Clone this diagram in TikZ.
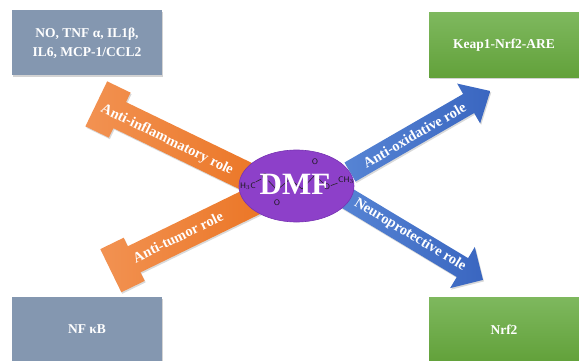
\documentclass[tikz,border=0pt]{standalone}
\usepackage{fontspec}
\setmainfont{Liberation Serif}
\usetikzlibrary{shadows,shapes.geometric}
\definecolor{boxgray}{RGB}{132,151,176}
\definecolor{greenT}{RGB}{126,184,94}
\definecolor{greenB}{RGB}{98,161,58}
\definecolor{orangeL}{RGB}{242,146,82}
\definecolor{orangeD}{RGB}{235,118,38}
\definecolor{blueL}{RGB}{86,132,212}
\definecolor{blueD}{RGB}{58,102,192}
\definecolor{dmfpurple}{RGB}{141,64,201}
\definecolor{dmfedge}{RGB}{118,50,178}
\begin{document}
\begin{tikzpicture}[x=1pt,y=-1pt,
  box/.style={minimum width=150pt, minimum height=65pt, inner sep=0pt,
    text=white, font=\fontsize{13.5}{19}\selectfont\bfseries, align=center,
    drop shadow={shadow xshift=1pt,shadow yshift=-1.5pt,opacity=0.35}},
  graybox/.style={box, fill=boxgray},
  greenbox/.style={box, top color=greenT, bottom color=greenB},
  lbl/.style={text=white, font=\fontsize{14.5}{16}\selectfont\bfseries, inner sep=0pt},
  tbar/.style={left color=orangeL, right color=orangeD,
    drop shadow={shadow xshift=1pt,shadow yshift=-1.5pt,opacity=0.3}},
  barrow/.style={left color=blueL, right color=blueD,
    drop shadow={shadow xshift=1pt,shadow yshift=-1.5pt,opacity=0.3}},
  bond/.style={draw=black!85, line width=0.6pt},
  atom/.style={font=\fontsize{8}{8}\selectfont\sffamily, text=black!90, inner sep=0.5pt}
]
\useasboundingbox (0,0) rectangle (579,361);

% boxes
\node[graybox] (inflam) at (87,43) {NO, TNF α, IL1β,\\IL6, MCP-1/CCL2};
\node[greenbox] (keap) at (504,45.5) {Keap1-Nrf2-ARE};
\node[graybox] (nfkb) at (87,329.5) {NF κB};
\node[greenbox] (nrf2) at (504,329.5) {Nrf2};

% orange T-bars (inhibition)
\coordinate (t1) at (108,109.5);
\begin{scope}[shift={(t1)}, rotate=-25.8]
  \path[tbar] (-13,-25) -- (13,-25) -- (13,-14.5) -- (165,-14.5) -- (165,14.5)
    -- (13,14.5) -- (13,25) -- (-13,25) -- cycle;
\end{scope}
\coordinate (t2) at (122.5,265);
\begin{scope}[shift={(t2)}, rotate=26]
  \path[tbar] (-13,-24) -- (13,-24) -- (13,-14.5) -- (150,-14.5) -- (150,14.5)
    -- (13,14.5) -- (13,24) -- (-13,24) -- cycle;
\end{scope}

% blue block arrows
\coordinate (s3) at (350,172);
\begin{scope}[shift={(s3)}, rotate=30]
  \path[barrow] (0,-11) -- (137,-11) -- (137,-23) -- (162,0) -- (137,23)
    -- (137,11) -- (0,11) -- cycle;
\end{scope}
\coordinate (s4) at (345,197);
\begin{scope}[shift={(s4)}, rotate=-31]
  \path[barrow] (0,-11) -- (137,-11) -- (137,-24) -- (161,0) -- (137,24)
    -- (137,11) -- (0,11) -- cycle;
\end{scope}

% arrow labels
\node[lbl, rotate=-25.8] (lantiinf) at (167,140) {Anti-inflammatory role};
\node[lbl, rotate=26] (lantitum) at (178,237) {Anti-tumor role};
\node[lbl, rotate=30] (lantiox) at (414.5,135) {Anti-oxidative role};
\node[lbl, rotate=-31] (lneuro) at (410,235) {Neuroprotective role};

% DMF ellipse
\node[ellipse, minimum width=115pt, minimum height=72pt, fill=dmfpurple,
  draw=dmfedge, line width=0.6pt] (dmf) at (296.5,186) {};

% molecule sketch
\node[atom] (me1) at (248,186) {H$_3$C};
\node[atom] (o1) at (265,177) {O};
\coordinate (c1) at (277,190);
\node[atom] (o3) at (277,203) {O};
\coordinate (ca) at (290,179);
\coordinate (cb) at (302,189);
\coordinate (c2) at (315,175);
\node[atom] (o4) at (315,162) {O};
\node[atom] (o2) at (327,187) {O};
\node[atom] (me2) at (346,180) {CH$_3$};
\draw[bond] (me1) -- (o1) -- (c1) -- (ca) -- (cb) -- (c2) -- (o2) -- (me2);
\draw[bond, double=dmfpurple, double distance=1.2pt] (c1) -- (o3);
\draw[bond, double=dmfpurple, double distance=1.2pt] (c2) -- (o4);

\node[text=white, font=\fontsize{31}{31}\selectfont\bfseries, inner sep=0pt] (dmflabel) at (295,184) {DMF};
\end{tikzpicture}
\end{document}
